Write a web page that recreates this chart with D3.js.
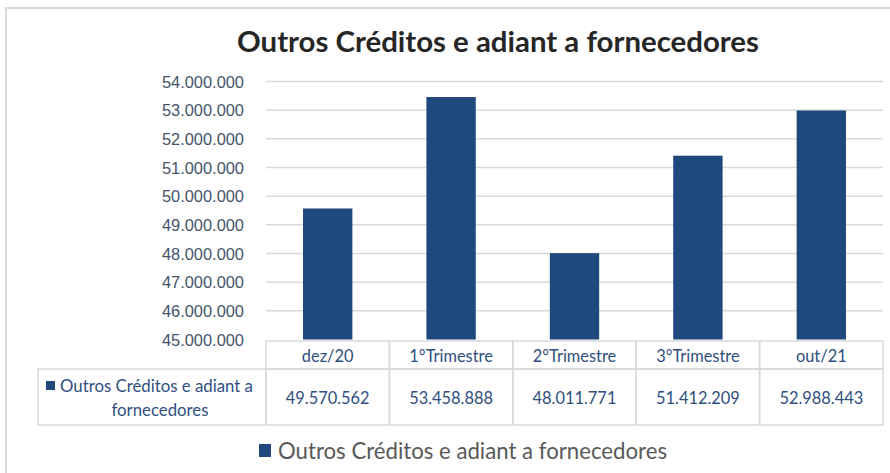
<!doctype html>
<html>
<head>
<meta charset="utf-8">
<title>Outros Créditos e adiant a fornecedores</title>
<style>
  body { margin: 0; background: #fff; }
  svg { display: block; font-family: Lato, "Open Sans", sans-serif; }
  .grid line { stroke: #d9d9d9; stroke-width: 1.5px; }
  .tick text { fill: #44546a; font-size: 16.4px; }
  .cell { fill: none; stroke: #d9d9d9; stroke-width: 1.5px; }
  .tbl { fill: #2f4f7f; font-size: 16.4px; }
</style>
</head>
<body>
<script src="https://d3js.org/d3.v7.min.js"></script>
<script>
var categories = ["dez/20", "1°Trimestre", "2°Trimestre", "3°Trimestre", "out/21"];
var values = [49570562, 53458888, 48011771, 51412209, 52988443];
var yTicks = [45000000, 46000000, 47000000, 48000000, 49000000, 50000000, 51000000, 52000000, 53000000, 54000000];
var seriesName = "Outros Créditos e adiant a fornecedores";

var width = 890, height = 473;
var plot = { left: 266, right: 883, top: 81.5, bottom: 339.5 };
var barColor = "#1f497d";

var fmt = function (v) { return d3.format(",")(v).replace(/,/g, "."); };

var svg = d3.select("body").append("svg")
  .attr("width", width)
  .attr("height", height);

// outer chart frame
svg.append("rect")
  .attr("x", 6).attr("y", 8)
  .attr("width", width).attr("height", height)
  .attr("fill", "#fff")
  .attr("stroke", "#d9d9d9")
  .attr("stroke-width", 2);

svg.append("text")
  .attr("x", 498).attr("y", 52)
  .attr("text-anchor", "middle")
  .attr("font-size", 29.4)
  .attr("font-weight", "bold")
  .attr("fill", "#262626")
  .text(seriesName);

var x = d3.scaleBand().domain(categories).range([plot.left, plot.right]).paddingInner(0).paddingOuter(0);
var y = d3.scaleLinear().domain([45000000, 54000000]).range([plot.bottom, plot.top]);

// gridlines
svg.append("g").attr("class", "grid")
  .selectAll("line").data(yTicks.slice(1)).join("line")
  .attr("x1", plot.left).attr("x2", plot.right)
  .attr("y1", function (d) { return y(d); })
  .attr("y2", function (d) { return y(d); });

// y axis labels
var yAxis = svg.append("g")
  .attr("transform", "translate(" + (plot.left - 22) + ",0)")
  .call(d3.axisLeft(y).tickValues(yTicks).tickFormat(fmt).tickSize(0).tickPadding(0));
yAxis.select(".domain").remove();
yAxis.selectAll(".tick text").attr("dy", "0.35em");

// bars
var bw = x.bandwidth() * 0.4;
svg.append("g").selectAll("rect").data(values).join("rect")
  .attr("x", function (d, i) { return x(categories[i]) + (x.bandwidth() - bw) / 2; })
  .attr("y", function (d) { return y(d); })
  .attr("width", bw)
  .attr("height", function (d) { return y(45000000) - y(d); })
  .attr("fill", barColor);

// data table
var rowTop = 341, rowMid = 369, rowBot = 425, tblLeft = 38;
var tbl = svg.append("g");
categories.forEach(function (c, i) {
  var x0 = x(c);
  tbl.append("rect").attr("class", "cell")
    .attr("x", x0).attr("y", rowTop).attr("width", x.bandwidth()).attr("height", rowMid - rowTop);
  tbl.append("rect").attr("class", "cell")
    .attr("x", x0).attr("y", rowMid).attr("width", x.bandwidth()).attr("height", rowBot - rowMid);
  tbl.append("text").attr("class", "tbl")
    .attr("x", x0 + x.bandwidth() / 2).attr("y", 356)
    .attr("dy", "0.35em").attr("text-anchor", "middle").text(c);
  tbl.append("text").attr("class", "tbl")
    .attr("x", x0 + x.bandwidth() / 2).attr("y", 398)
    .attr("dy", "0.35em").attr("text-anchor", "middle").text(fmt(values[i]));
});
tbl.append("rect").attr("class", "cell")
  .attr("x", tblLeft).attr("y", rowMid).attr("width", plot.left - tblLeft).attr("height", rowBot - rowMid);
tbl.append("rect")
  .attr("x", 46).attr("y", 381).attr("width", 9).attr("height", 9).attr("fill", barColor);
tbl.append("text").attr("class", "tbl")
  .attr("x", 60).attr("y", 386).attr("dy", "0.35em").style("font-size", "16.8px").text("Outros Créditos e adiant a");
tbl.append("text").attr("class", "tbl")
  .attr("x", 160).attr("y", 410).attr("dy", "0.35em").attr("text-anchor", "middle").style("font-size", "16.8px").text("fornecedores");

// legend
svg.append("rect")
  .attr("x", 259).attr("y", 444).attr("width", 12).attr("height", 13).attr("fill", barColor);
svg.append("text")
  .attr("x", 278).attr("y", 451).attr("dy", "0.35em")
  .attr("font-size", 22.2).attr("fill", "#595959")
  .text(seriesName);
</script>
</body>
</html>
